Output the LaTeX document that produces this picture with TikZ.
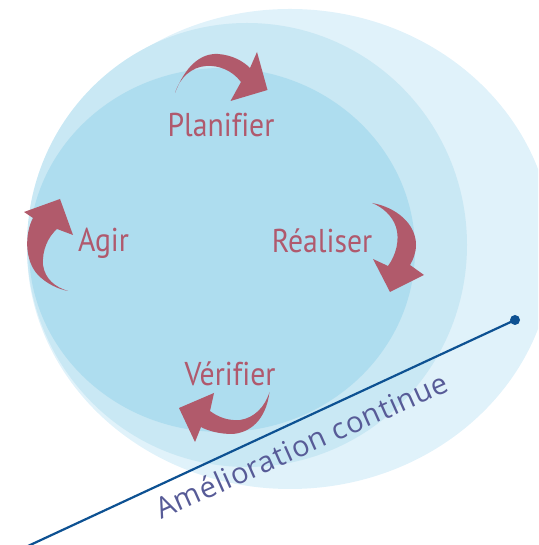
\documentclass[tikz,border=0pt]{standalone}
\usepackage{fontspec}
\newfontfamily\labfont[FakeStretch=0.9,Ligatures=NoCommon]{PT Sans}
\newfontfamily\linefont[LetterSpace=3]{Open Sans}
\definecolor{outerc}{HTML}{E0F2FA}
\definecolor{midc}{HTML}{C9E8F4}
\definecolor{innerc}{HTML}{AEDDEF}
\definecolor{arrowc}{HTML}{B15A6B}
\definecolor{labc}{HTML}{B0596D}
\definecolor{linec}{HTML}{0D5192}
\definecolor{textc}{HTML}{575B97}
\begin{document}
\begin{tikzpicture}[x=1pt,y=1pt,
  lab/.style={font=\labfont\fontsize{33}{33}\selectfont, text=labc, anchor=base, inner sep=0pt},
  cyc/.style={fill=arrowc, draw=none}]
\useasboundingbox (0,0) rectangle (538,545);
\clip (0,0) rectangle (538,545);
% circles
\fill[outerc] (290,296) ellipse [x radius=263, y radius=240];
\fill[midc] (247,300) ellipse [x radius=220, y radius=222];
\fill[innerc] (222,295) ellipse [x radius=193, y radius=182];
% Planifier arrow
\fill[cyc] (175,452) .. controls (185,478) and (200,492) .. (218,491)
  .. controls (232,490) and (243,484) .. (250,477) -- (257,493) -- (267.5,455) -- (230.5,444) -- (241,463)
  .. controls (232,475) and (218,480) .. (206,479) .. controls (192,478) and (180,468) .. (175,452) -- cycle;
% Realiser arrow
\fill[cyc] (372,342) .. controls (395,338) and (416,322) .. (416,300)
  .. controls (416,292) and (413,285) .. (410,280) -- (424,270) -- (390,253) -- (373,286) -- (388,279)
  .. controls (396,290) and (400,305) .. (396,318) .. controls (392,330) and (382,338) .. (372,342) -- cycle;
% Verifier arrow
\fill[cyc] (269.5,153) .. controls (266,125) and (250,112) .. (232,111)
  .. controls (220,111) and (208,114) .. (201,118) -- (195,103) -- (179,137) -- (214,152) -- (210,134)
  .. controls (218,128) and (228,124) .. (240,125) .. controls (254,127) and (265,138) .. (269.5,153) -- cycle;
% Agir arrow
\fill[cyc] (68,254) .. controls (55,258) and (45,266) .. (43,280)
  .. controls (42,295) and (48,308) .. (57,316) -- (73,310) -- (60,346) -- (24,333) -- (33,327)
  .. controls (25,312) and (24,285) .. (38,270) .. controls (47,261) and (58,256) .. (68,254) -- cycle;
% labels
\node[lab] (plan) at (221,408.3) {Planif\kern0pt ier};
\node[lab] (real) at (322,292.3) {Réaliser};
\node[lab] (verif) at (230,159) {Vérif\kern0pt ier};
\node[lab] (agir) at (103.5,293.3) {Agir};
% improvement line
\coordinate (start) at (28,-1);
\node[circle, fill=linec, minimum size=10pt, inner sep=0pt] (dot) at (515,225) {};
\draw[linec, line width=2.2pt] (start) -- (dot.center);
\node[font=\linefont\fontsize{29}{29}\selectfont, text=textc, anchor=base, rotate=24, inner sep=0pt] (amel) at (306,90) {Amélioration continue};
\end{tikzpicture}
\end{document}
